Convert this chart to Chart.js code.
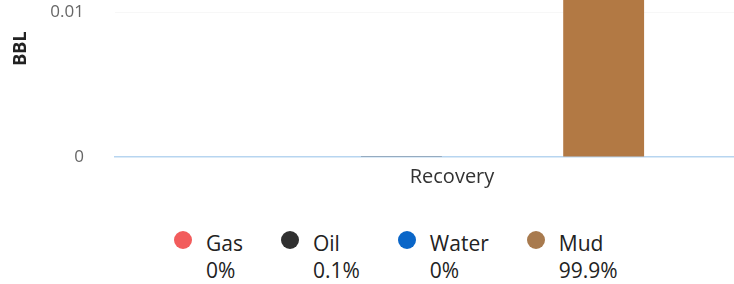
<!DOCTYPE html>
<html>
<head>
<meta charset="utf-8">
<script src="https://cdn.jsdelivr.net/npm/chart.js@4"></script>
<style>
  html, body { margin: 0; padding: 0; background: #fff; overflow: hidden; width: 734px; height: 284px; }
  #wrap { position: absolute; left: 0; top: -73px; width: 800px; height: 273px; }
  #legend { position: absolute; left: 174px; top: 230px; display: flex; gap: 38px;
            font-family: "Open Sans", sans-serif; font-size: 21px; color: #222; line-height: 27px; }
  .item { display: flex; align-items: flex-start; }
  .dot { width: 18px; height: 18px; border-radius: 50%; margin-top: 1px; margin-right: 14px; }
</style>
</head>
<body>
<div id="wrap"><canvas id="chart" width="800" height="273"></canvas></div>
<div id="legend"></div>
<script>
// Data
const categories = ["Recovery"];
const seriesNames = ["Gas", "Oil", "Water", "Mud"];
const gasValues = [0];
const oilValues = [0.000016];
const waterValues = [0];
const mudValues = [0.016];
const sharePct = ["0%", "0.1%", "0%", "99.9%"];
const yTicks = [0, 0.01];

const colors = ["#f25c5c", "#333333", "#0a66c8", "#b27944"];
const dotColors = ["#f25c5c", "#303030", "#0a66c8", "#a87a4e"];
const allValues = [gasValues, oilValues, waterValues, mudValues];

new Chart(document.getElementById("chart"), {
  type: "bar",
  data: {
    labels: categories,
    datasets: seriesNames.map((name, i) => ({
      label: name,
      data: allValues[i],
      backgroundColor: colors[i],
      categoryPercentage: 0.6,
      barPercentage: 0.8,
    })),
  },
  options: {
    responsive: false,
    animation: false,
    layout: { padding: { top: 6, right: 11, bottom: 0, left: 0 } },
    plugins: { legend: { display: false }, tooltip: { enabled: false } },
    scales: {
      x: {
        z: 1,
        afterFit: (scale) => { scale.height = 43; },
        grid: { display: false },
        border: { color: "#b7d5f0", width: 1.5, dash: [6, 2] },
        ticks: { color: "#333", padding: 0, font: { family: "Open Sans", size: 20 } },
      },
      y: {
        min: 0,
        max: 0.015,
        afterFit: (scale) => { scale.width = 115; },
        afterBuildTicks: (scale) => { scale.ticks = yTicks.map((v) => ({ value: v })); },
        border: { display: false },
        grid: {
          color: (ctx) => (ctx.tick && ctx.tick.value === 0 ? "rgba(0,0,0,0)" : "rgba(0,0,0,0.03)"),
          tickLength: 28,
          tickColor: "rgba(0,0,0,0)",
        },
        ticks: { color: "#666", padding: 3, font: { family: "Open Sans", size: 17 } },
        title: {
          display: true,
          text: "BBL",
          color: "#222",
          padding: { top: 10, bottom: 0 },
          font: { family: "Open Sans", size: 18, weight: "bold" },
        },
      },
    },
  },
});

// Legend with share percentages
const legend = document.getElementById("legend");
seriesNames.forEach((name, i) => {
  const item = document.createElement("div");
  item.className = "item";
  item.innerHTML = '<div class="dot" style="background:' + dotColors[i] + '"></div>' +
    "<div><div>" + name + "</div><div>" + sharePct[i] + "</div></div>";
  legend.appendChild(item);
});
</script>
</body>
</html>
